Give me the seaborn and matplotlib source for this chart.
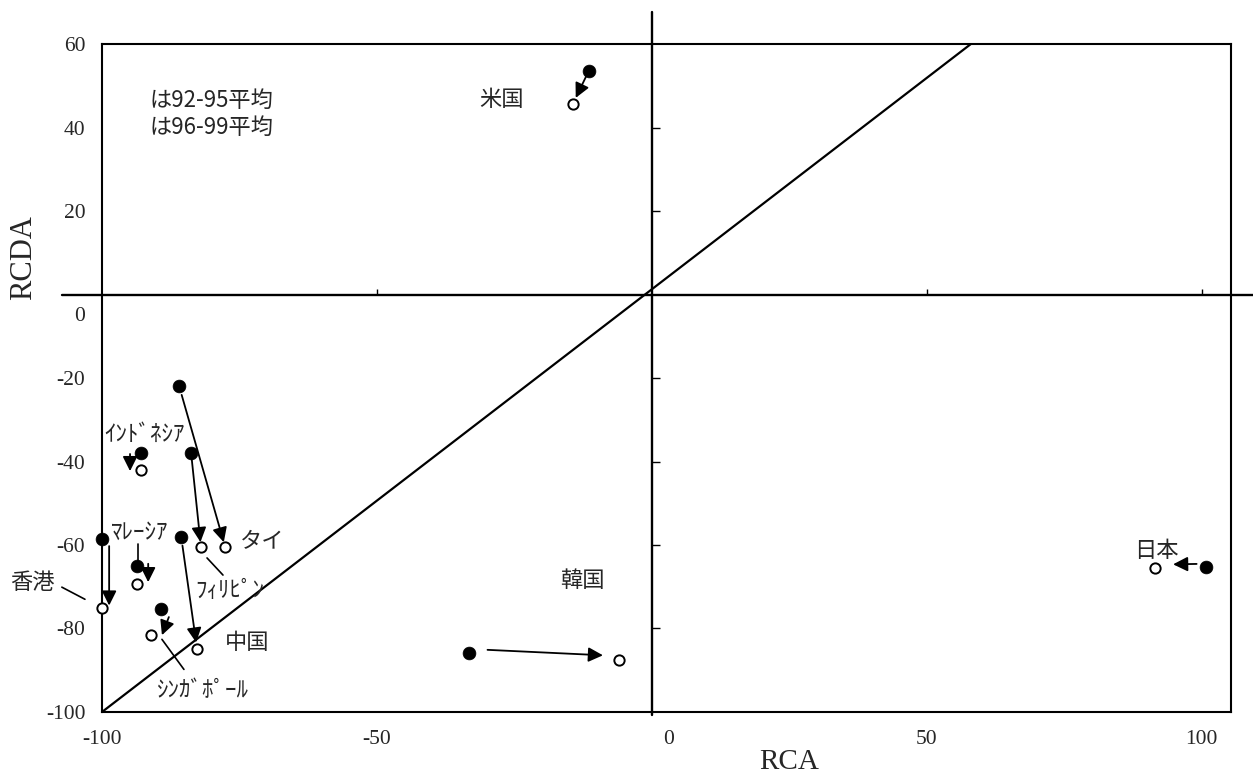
import numpy as np
import pandas as pd
import matplotlib
matplotlib.use("Agg")
import matplotlib.pyplot as plt
import matplotlib.transforms as mtrans
import seaborn as sns

# estilo
sns.set_style("white")
plt.rcParams['font.family'] = ['Liberation Serif', 'Noto Sans CJK JP']
JP = ['Noto Sans CJK JP', 'DejaVu Sans']

# datos (RCA, RCDA)
countries = ['米国', '日本', '韓国', 'タイ', 'フィリピン', 'インドネシア',
             'マレーシア', '香港', '中国', 'シンガポール']
labels = ['米国', '日本', '韓国', 'タイ', 'ﾌｨﾘﾋﾟﾝ', 'ｲﾝﾄﾞﾈｼｱ',
          'ﾏﾚｰｼｱ', '香港', '中国', 'ｼﾝｶﾞﾎﾟｰﾙ']
rca_9295 = [-11.5, 100.7, -33.3, -86.0, -83.8, -92.9, -93.6, -100.0, -85.6, -89.3]
rcda_9295 = [53.5, -65.3, -85.9, -21.8, -37.9, -37.9, -65.0, -58.6, -58.0, -75.4]
rca_9699 = [-14.4, 91.5, -6.0, -77.6, -82.0, -92.9, -93.6, -100.0, -82.7, -91.1]
rcda_9699 = [45.6, -65.5, -87.6, -60.5, -60.5, -42.0, -69.4, -75.0, -85.0, -81.6]

legend_lines = ['は92-95平均', 'は96-99平均']
x_ticks = [-100, -50, 0, 50, 100]
y_ticks = [-100, -80, -60, -40, -20, 0, 20, 40, 60]
diag_x = [-100, 58]
diag_y = [-100, 60]

# disposición de flechas y etiquetas (desplazamiento dx, dy, shrinkA, shrinkB)
arrow_layout = {
    '米国': (0, 0, 4, 5),
    '日本': (0, 0.8, 6.5, 13),
    '韓国': (0, 1.0, 13.5, 11.5),
    'タイ': (0, 0, 7, 3.6),
    'フィリピン': (0, 0, 4, 3.6),
    'インドネシア': (-2.0, -0.3, 0, 0),
    'マレーシア': (2.0, 0.5, 0, 0),
    '香港': (1.3, 0, 5, 1.5),
    '中国': (0, 0, 6.5, 5),
    'シンガポール': (2.0, 0, 6, 0),
}
label_pos = {
    '米国': (-27.3, 46.8), '日本': (91.8, -61.2), '韓国': (-12.7, -68.6),
    'タイ': (-70.9, -59.3), 'フィリピン': (-76.7, -71.0),
    'インドネシア': (-92.2, -33.4), 'マレーシア': (-93.1, -56.9),
    '香港': (-112.7, -69.1), '中国': (-73.6, -83.3), 'シンガポール': (-81.6, -94.8),
}
leaders = {
    'フィリピン': ((-80.9, -78.0), (-63.1, -67.2)),
    'マレーシア': ((-93.5, -93.5), (-59.8, -63.8)),
    '香港': ((-107.3, -103.1), (-70.1, -73.0)),
    'シンガポール': ((-89.1, -85.1), (-82.6, -89.8)),
}

df = pd.DataFrame({'country': countries,
                   'rca_a': rca_9295, 'rcda_a': rcda_9295,
                   'rca_b': rca_9699, 'rcda_b': rcda_9699})

fig = plt.figure(figsize=(12.53, 7.75), dpi=100)
ax = fig.add_axes([0.0814, 0.0813, 0.901, 0.8619])
ax.set_xlim(-100, 105.3)
ax.set_ylim(-100, 60)

for s in ax.spines.values():
    s.set_color('black')
    s.set_linewidth(1.5)

# ejes que cruzan en cero
ax.axhline(0, xmin=-0.0354, xmax=1.0195, color='black', lw=1.7, clip_on=False, zorder=2)
ax.axvline(0, ymin=-0.005, ymax=1.048, color='black', lw=1.7, clip_on=False, zorder=2)
xt_marks = [t for t in x_ticks if t not in (-100, 0)]
yt_marks = [t for t in y_ticks if t not in (-100, 0, 60)]
ax.plot(xt_marks, [0] * len(xt_marks), ls='none', marker=2, ms=4,
        mew=1, color='black')
ax.plot([0] * len(yt_marks), yt_marks, ls='none', marker=1,
        ms=6, mew=1, color='black')

# diagonal
ax.plot(diag_x, diag_y, color='black', lw=1.6, zorder=2)

# puntos
sns.scatterplot(data=df, x='rca_a', y='rcda_a', s=85, color='black',
                edgecolor='black', linewidth=0.5, ax=ax, zorder=5, clip_on=False)
sns.scatterplot(data=df, x='rca_b', y='rcda_b', s=55, color='white',
                edgecolor='black', linewidth=1.4, ax=ax, zorder=5, clip_on=False)

for i, c in enumerate(countries):
    dx, dy, sa, sb = arrow_layout[c]
    ax.annotate('', xy=(rca_9699[i] + dx, rcda_9699[i] + dy),
                xytext=(rca_9295[i] + dx, rcda_9295[i] + dy),
                arrowprops=dict(arrowstyle='-|>', color='black', lw=1.3,
                                shrinkA=sa, shrinkB=sb, mutation_scale=22),
                zorder=4)
    lx, ly = label_pos[c]
    size = 16.5 if labels[i] != c else 16
    ax.text(lx, ly, labels[i], ha='center', va='center', fontsize=size,
            family=JP, clip_on=False)

for c, (lx, ly) in leaders.items():
    ax.plot(lx, ly, color='black', lw=1.2, clip_on=False)

for k, t in enumerate(legend_lines):
    ax.text(-91.3, 46.6 - k * 6.5, t, ha='left', va='center', fontsize=16, family=JP)

# ticks y etiquetas
ax.set_xticks(x_ticks)
ax.set_xticklabels([str(t) for t in x_ticks])
ax.set_yticks(y_ticks)
ax.set_yticklabels([str(t) for t in y_ticks])
ax.tick_params(axis='x', length=0, pad=13, labelsize=15.5)
ax.tick_params(axis='y', length=0, pad=12, labelsize=15.5)

lbl = ax.get_xticklabels()[2]
lbl.set_transform(lbl.get_transform() + mtrans.ScaledTranslation(0.17, 0, fig.dpi_scale_trans))
lbl = ax.get_yticklabels()[5]
lbl.set_transform(lbl.get_transform() + mtrans.ScaledTranslation(0, -0.19, fig.dpi_scale_trans))

ax.set_xlabel('RCA', fontsize=21)
ax.set_ylabel('RCDA', fontsize=22)
ax.xaxis.set_label_coords(0.609, -0.055)
ax.yaxis.set_label_coords(-0.057, 0.68)

fig.savefig('out.png', dpi=100)
